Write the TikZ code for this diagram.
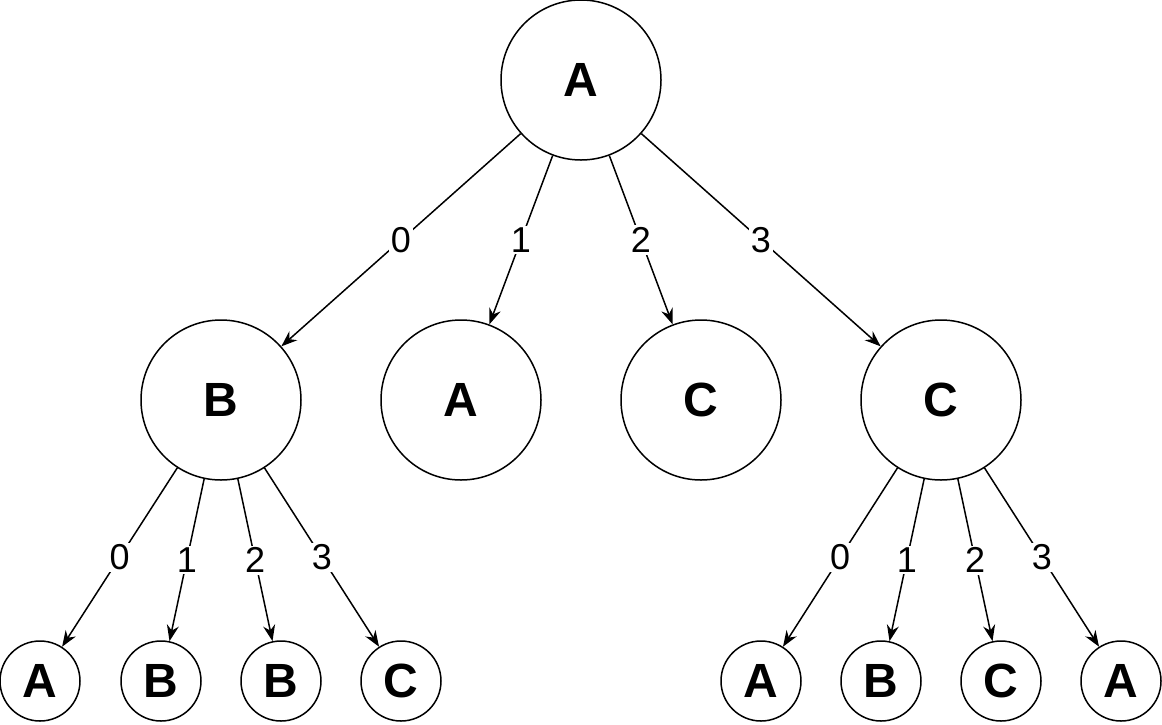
\documentclass[tikz,border=0pt]{standalone}
\usepackage{fontspec}
\setmainfont{Liberation Sans}
\usetikzlibrary{arrows.meta}
\begin{document}
\begin{tikzpicture}[x=1pt,y=-1pt,
  big/.style={circle,draw,line width=1.5pt,minimum size=160pt,inner sep=0pt,font=\fontsize{48}{48}\selectfont\bfseries},
  sm/.style={circle,draw,line width=1.5pt,minimum size=80pt,inner sep=0pt,font=\fontsize{48}{48}\selectfont\bfseries},
  arr/.style={line width=1.5pt,-{Stealth[length=16pt,width=12pt]}},
  lab/.style={fill=white,inner sep=2pt,font=\fontsize{36}{36}\selectfont}]
\useasboundingbox (0,0) rectangle (1162,724);
\node[big] (r) at (581,80) {A};
\node[big] (b) at (221,400) {B};
\node[big] (a2) at (461,400) {A};
\node[big] (c2) at (701,400) {C};
\node[big] (c) at (941,400) {C};
\node[sm] (l1) at (40,681) {A};
\node[sm] (l2) at (161,681) {B};
\node[sm] (l3) at (281,681) {B};
\node[sm] (l4) at (401,681) {C};
\node[sm] (r1) at (761,681) {A};
\node[sm] (r2) at (881,681) {B};
\node[sm] (r3) at (1001,681) {C};
\node[sm] (r4) at (1121,681) {A};
\draw[arr] (r) -- node[lab]{0} (b);
\draw[arr] (r) -- node[lab]{1} (a2);
\draw[arr] (r) -- node[lab]{2} (c2);
\draw[arr] (r) -- node[lab]{3} (c);
\draw[arr] (b) -- node[lab]{0} (l1);
\draw[arr] (b) -- node[lab]{1} (l2);
\draw[arr] (b) -- node[lab]{2} (l3);
\draw[arr] (b) -- node[lab]{3} (l4);
\draw[arr] (c) -- node[lab]{0} (r1);
\draw[arr] (c) -- node[lab]{1} (r2);
\draw[arr] (c) -- node[lab]{2} (r3);
\draw[arr] (c) -- node[lab]{3} (r4);
\end{tikzpicture}
\end{document}
